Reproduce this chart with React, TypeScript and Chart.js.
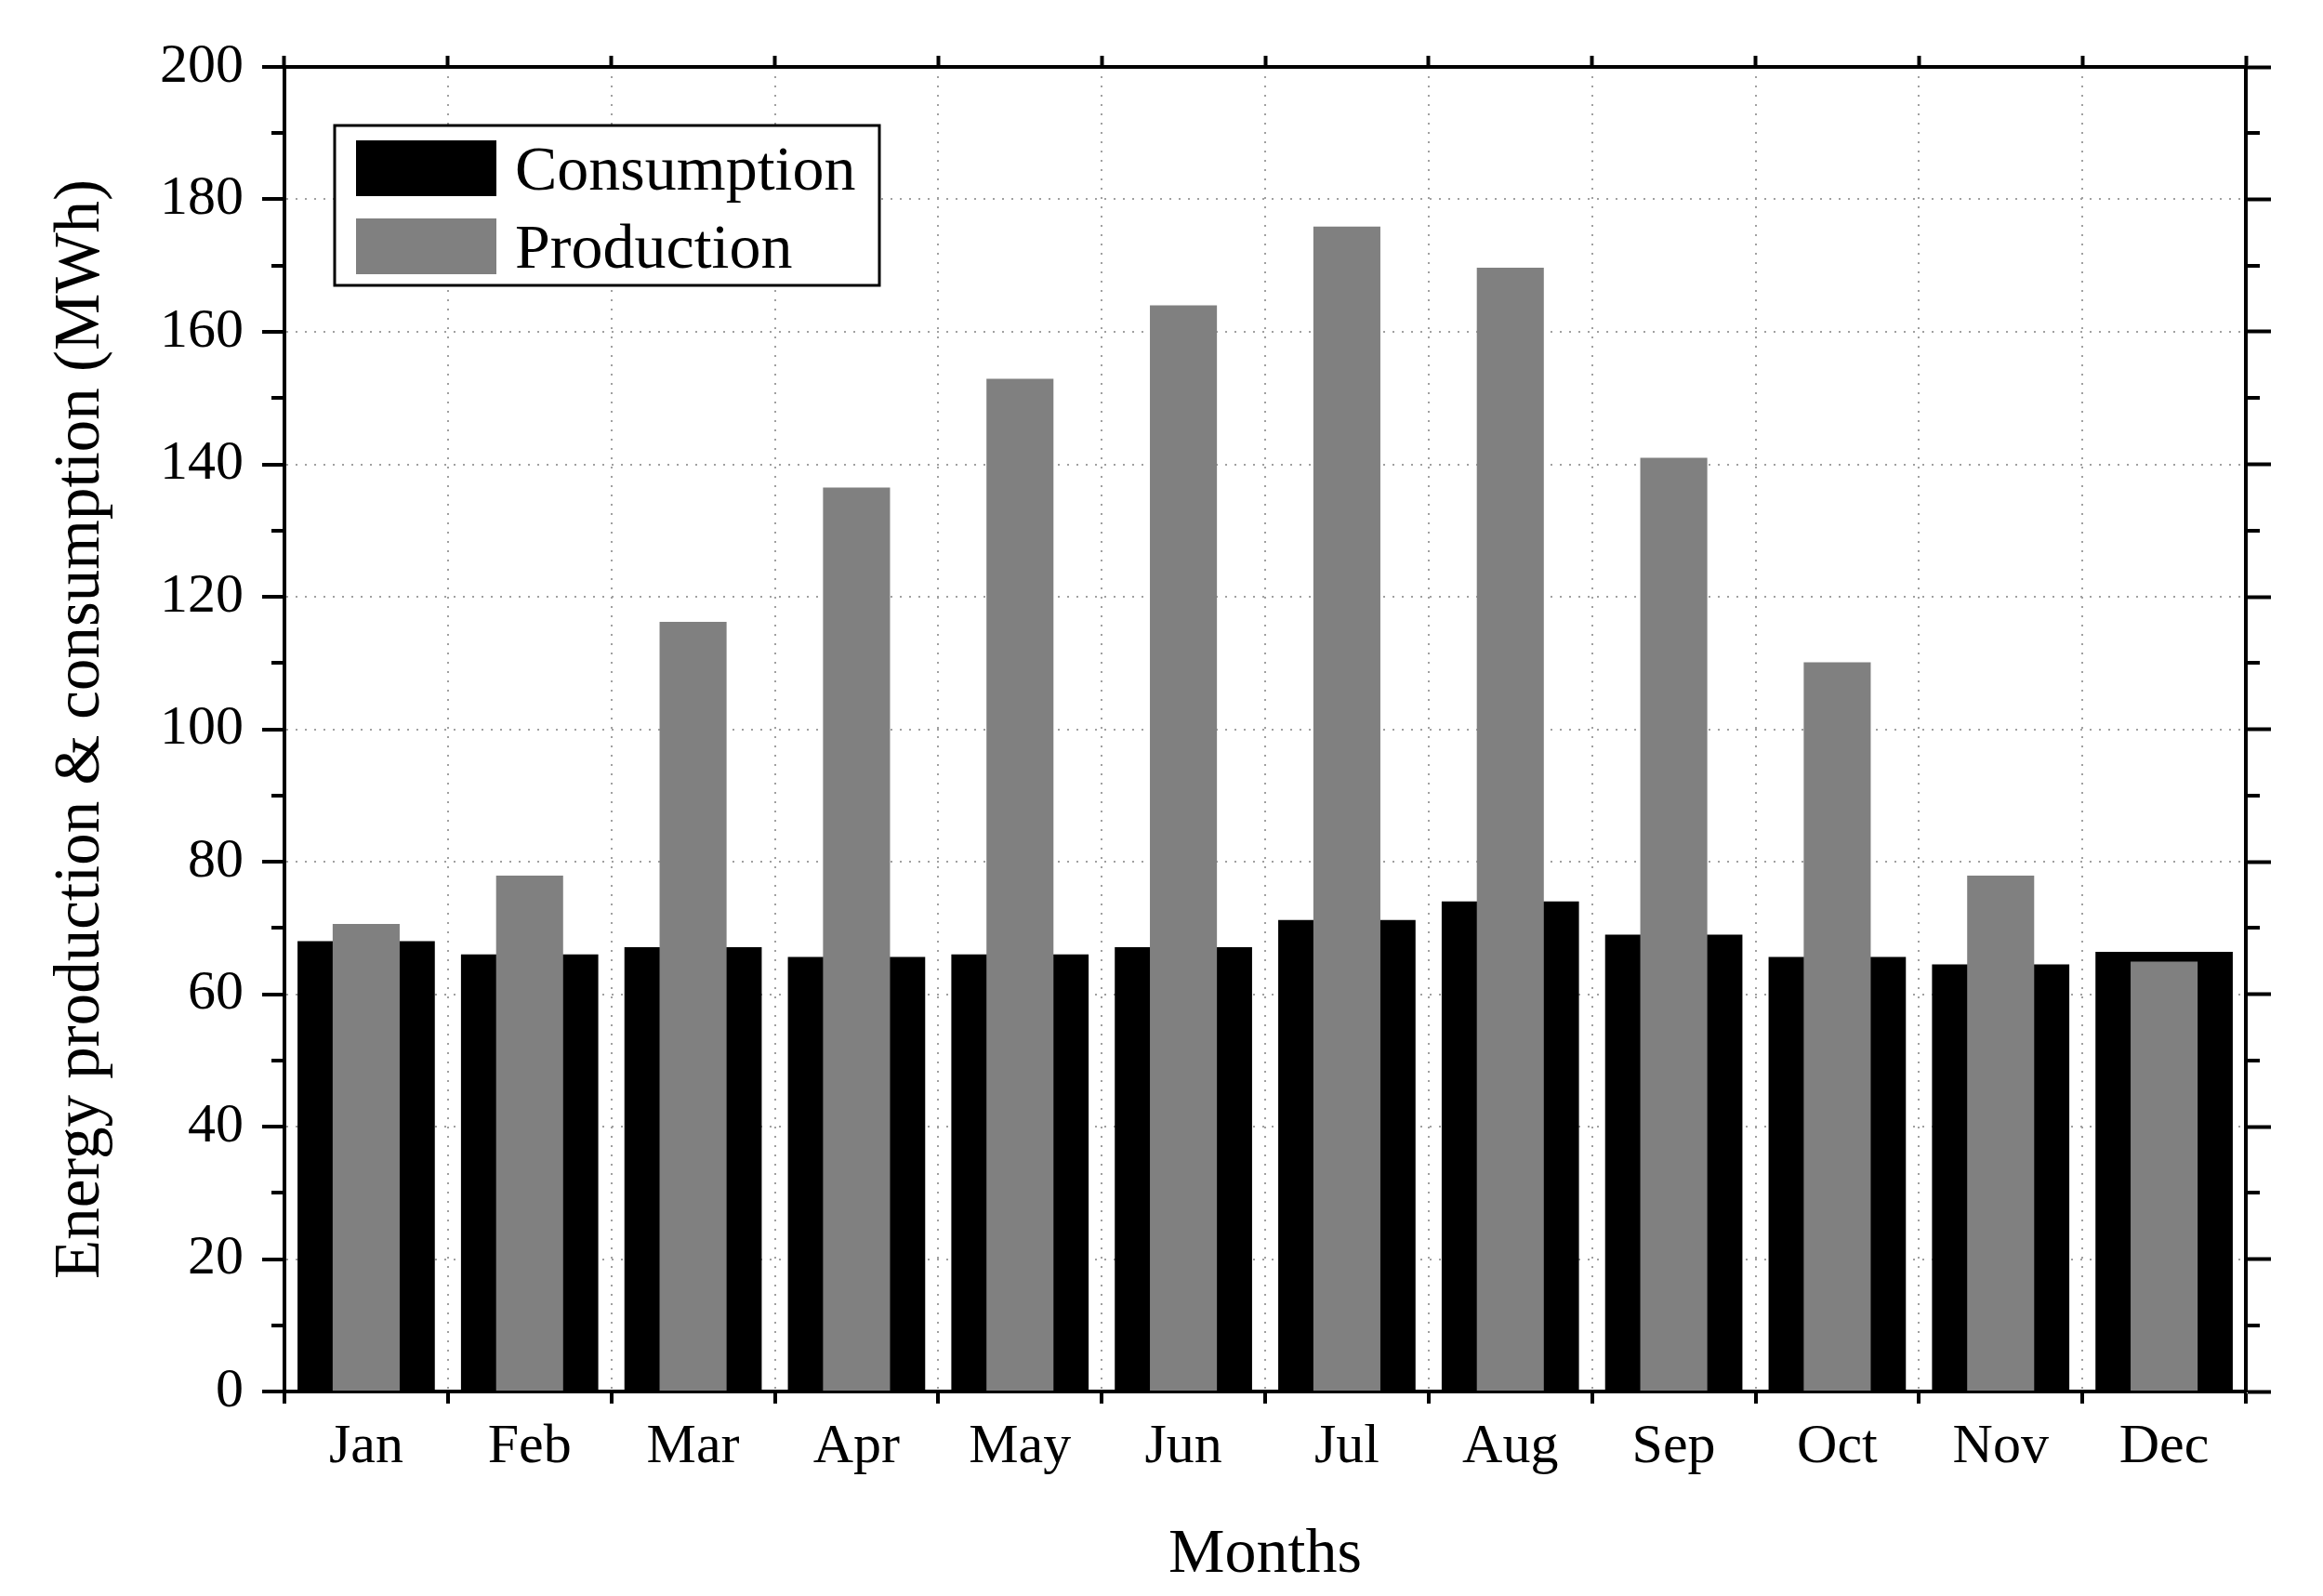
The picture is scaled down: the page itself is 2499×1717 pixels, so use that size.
import React, { useEffect, useRef } from 'react';
import { Chart, registerables } from 'chart.js';

Chart.register(...registerables);

const months = ['Jan', 'Feb', 'Mar', 'Apr', 'May', 'Jun', 'Jul', 'Aug', 'Sep', 'Oct', 'Nov', 'Dec'];
const consumption = [68.0, 66.0, 67.1, 65.6, 66.0, 67.1, 71.2, 74.0, 69.0, 65.6, 64.5, 66.4];
const production = [70.6, 77.9, 116.2, 136.5, 152.9, 164.0, 175.9, 169.7, 141.0, 110.1, 77.9, 64.9];
const seriesNames = ['Consumption', 'Production'];
const seriesColors = ['#000000', '#808080'];
const yMin = 0;
const yMax = 200;
const yMajorStep = 20;
const yMinorTicks = [10, 30, 50, 70, 90, 110, 130, 150, 170, 190];
const xTitle = 'Months';
const yTitle = 'Energy production & consumption (MWh)';

const W = 2499;
const H = 1717;
const FONT = '"Liberation Serif", "Times New Roman", serif';

const minorTickPlugin = {
  id: 'minorTicks',
  afterDraw(chart: any) {
    const { ctx, chartArea } = chart;
    const y = chart.scales.y;
    ctx.save();
    ctx.strokeStyle = '#000';
    ctx.lineWidth = 4;
    ctx.beginPath();
    for (const v of yMinorTicks) {
      const py = Math.round(y.getPixelForValue(v));
      ctx.moveTo(chartArea.left - 14, py);
      ctx.lineTo(chartArea.left, py);
      ctx.moveTo(chartArea.right, py);
      ctx.lineTo(chartArea.right + 15, py);
    }
    ctx.stroke();
    ctx.restore();
  },
};

const legendPlugin = {
  id: 'boxLegend',
  afterDraw(chart: any) {
    const { ctx } = chart;
    const bx = 360, by = 135, bw = 586, bh = 172;
    ctx.save();
    ctx.fillStyle = '#fff';
    ctx.fillRect(bx, by, bw, bh);
    ctx.strokeStyle = '#000';
    ctx.lineWidth = 3;
    ctx.strokeRect(bx, by, bw, bh);
    const rows = [151, 235];
    const baselines = [204, 288];
    ctx.font = `68px ${FONT}`;
    ctx.textBaseline = 'alphabetic';
    ctx.textAlign = 'left';
    seriesNames.forEach((name, i) => {
      ctx.fillStyle = seriesColors[i];
      ctx.fillRect(383, rows[i], 151, 60);
      ctx.fillStyle = '#000';
      ctx.fillText(name, 554, baselines[i]);
    });
    ctx.restore();
  },
};

export default function App() {
  const ref = useRef<HTMLCanvasElement | null>(null);

  useEffect(() => {
    document.body.style.margin = '0';
    const canvas = ref.current;
    if (!canvas) return;
    const gridColor = '#a0a0a0';
    const chart = new Chart(canvas, {
      type: 'bar',
      data: {
        labels: months,
        datasets: [
          {
            label: seriesNames[0],
            data: consumption,
            backgroundColor: seriesColors[0],
            borderWidth: 0,
            grouped: false,
            order: 1,
            barPercentage: 0.84,
            categoryPercentage: 1.0,
          },
          {
            label: seriesNames[1],
            data: production,
            backgroundColor: seriesColors[1],
            borderWidth: 0,
            grouped: false,
            order: 0,
            barPercentage: 0.41,
            categoryPercentage: 1.0,
          },
        ],
      },
      options: {
        responsive: false,
        animation: false,
        devicePixelRatio: 1,
        layout: { padding: 0 },
        plugins: { legend: { display: false }, tooltip: { enabled: false } },
        scales: {
          x: {
            type: 'category',
            position: 'bottom',
            offset: true,
            grid: {
              offset: true,
              color: gridColor,
              lineWidth: 2,
              tickLength: 13,
              tickColor: '#000',
              tickWidth: 4,
              tickBorderDash: [],
            },
            border: { display: true, color: '#000', width: 4, dash: [2, 8] },
            ticks: { color: '#000', font: { family: FONT, size: 60 }, padding: 11, maxRotation: 0 },
            title: {
              display: true,
              text: xTitle,
              color: '#000',
              font: { family: FONT, size: 68 },
              padding: { top: 0, bottom: 3 },
            },
            afterFit: (s: any) => { s.height = 220; },
          },
          x2: {
            type: 'category',
            position: 'top',
            offset: true,
            grid: {
              offset: true,
              drawOnChartArea: false,
              tickLength: 12,
              tickColor: '#000',
              tickWidth: 4,
            },
            border: { display: true, color: '#000', width: 4 },
            ticks: { display: false },
            afterFit: (s: any) => { s.height = 72; },
          },
          y: {
            type: 'linear',
            position: 'left',
            min: yMin,
            max: yMax,
            grid: {
              color: gridColor,
              lineWidth: 2,
              tickLength: 24,
              tickColor: '#000',
              tickWidth: 4,
              tickBorderDash: [],
            },
            border: { display: true, color: '#000', width: 4, dash: [2, 8] },
            ticks: { stepSize: yMajorStep, color: '#000', font: { family: FONT, size: 60 }, padding: 20 },
            title: {
              display: true,
              text: yTitle,
              color: '#000',
              font: { family: FONT, size: 69 },
              padding: { top: 46, bottom: 0 },
            },
            afterFit: (s: any) => { s.width = 306; },
          },
          y2: {
            type: 'linear',
            position: 'right',
            min: yMin,
            max: yMax,
            grid: {
              drawOnChartArea: false,
              tickLength: 27,
              tickColor: '#000',
              tickWidth: 4,
            },
            border: { display: true, color: '#000', width: 4 },
            ticks: { stepSize: yMajorStep, display: false },
            afterFit: (s: any) => { s.width = 83; },
          },
        },
      },
      plugins: [minorTickPlugin, legendPlugin],
    } as any);
    return () => chart.destroy();
  }, []);

  return (
    <canvas ref={ref} width={W} height={H} style={{ display: 'block', width: W, height: H }} />
  );
}
